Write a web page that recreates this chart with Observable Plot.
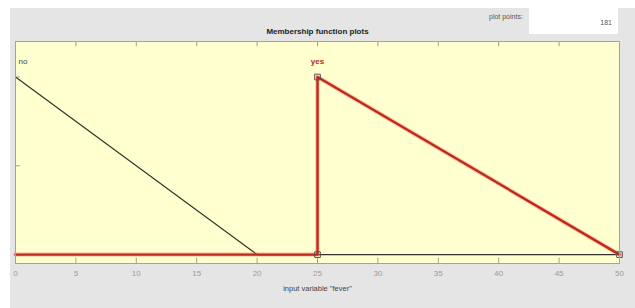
<!DOCTYPE html>
<html>
<head>
<meta charset="utf-8">
<script src="https://cdn.jsdelivr.net/npm/d3@7"></script>
<script src="https://cdn.jsdelivr.net/npm/@observablehq/plot@0.6"></script>
<style>
  html, body { margin: 0; padding: 0; background: #ffffff; }
  #wrap { position: relative; width: 635px; height: 308px; overflow: hidden; background: #ffffff;
          font-family: "Liberation Sans Narrow", "Liberation Sans", Arial, sans-serif; }
  #panel { position: absolute; left: 10px; top: 8px; right: 0; bottom: 0; background: #e5e5e5; }
  #ppbox { position: absolute; left: 529px; top: 0; width: 89px; height: 34px; background: #ffffff; }
  #pplabel { position: absolute; left: 489px; top: 13px; font-size: 7px; color: #555; }
  #ppval { position: absolute; right: 23px; top: 19px; font-size: 7px; color: #555; }
  #title { position: absolute; left: 0; width: 635px; top: 27px; text-align: center; font-size: 8px; font-weight: bold; color: #222; }
  #chart { position: absolute; left: 0; top: 0; }
</style>
</head>
<body>
<div id="wrap">
  <div id="panel"></div>
  <div id="ppbox"></div>
  <div id="pplabel">plot points:</div>
  <div id="ppval">181</div>
  <div id="title">Membership function plots</div>
  <div id="chart"></div>
</div>
<script>
// Data
const xTicks = [0, 5, 10, 15, 20, 25, 30, 35, 40, 45, 50];
const yTicks = [0, 0.5, 1];
const xDomain = [0, 50];
const yDomain = [-0.05, 1.2];
const mfNames = ["no", "yes"];
const noX = [0, 20, 50];
const noY = [1, 0, 0];
const yesX = [0, 25, 25, 50];
const yesY = [0, 0, 1, 0];
const yesHandleX = [25, 25, 50];
const yesHandleY = [0, 1, 0];
const mfPeakX = [0, 25];
const axisLabel = 'input variable "fever"';

const noData = noX.map((x, i) => ({x, y: noY[i]}));
const yesData = yesX.map((x, i) => ({x, y: yesY[i]}));
const handles = yesHandleX.map((x, i) => ({x, y: yesHandleY[i]}));

const tickLenY = 0.03;
const tickLenX = 0.4;
const labelY = 1.09;

const chart = Plot.plot({
  width: 635,
  height: 308,
  marginTop: 41,
  marginBottom: 45,
  marginLeft: 15,
  marginRight: 16,
  style: { background: "transparent", fontFamily: '"Liberation Sans Narrow", "Liberation Sans", Arial, sans-serif' },
  x: { domain: xDomain },
  y: { domain: yDomain, axis: null },
  marks: [
    Plot.frame({ fill: "#ffffcf", stroke: "none" }),
    // inward ticks bottom / top / left
    Plot.ruleX(xTicks, { x: d => d, y1: yDomain[0], y2: yDomain[0] + tickLenY, stroke: "#8a8a7a", strokeWidth: 0.8 }),
    Plot.ruleX(xTicks, { x: d => d, y1: yDomain[1], y2: yDomain[1] - tickLenY, stroke: "#8a8a7a", strokeWidth: 0.8 }),
    Plot.ruleY(yTicks, { y: d => d, x1: xDomain[0], x2: xDomain[0] + tickLenX, stroke: "#8a8a7a", strokeWidth: 0.8 }),
    // tick labels
    Plot.axisX({ ticks: xTicks, tickSize: 0, tickPadding: 7, fontSize: 8, fill: "#9a9a9a", label: null }),
    Plot.text([axisLabel], { frameAnchor: "bottom", dy: 27, text: d => d, fontSize: 7.5, fill: "#444" }),
    // membership functions
    Plot.line(noData, { x: "x", y: "y", stroke: "#33332a", strokeWidth: 1.2 }),
    Plot.line(yesData, { x: "x", y: "y", stroke: "#e07060", strokeWidth: 4.5, strokeOpacity: 0.35 }),
    Plot.line(yesData, { x: "x", y: "y", stroke: "#c0281c", strokeWidth: 2.4 }),
    Plot.dot(handles, { x: "x", y: "y", symbol: "square", r: 3.2, stroke: "#555", strokeWidth: 1, fill: "none" }),
    Plot.text([mfNames[0]], { x: mfPeakX[0], y: labelY, text: d => d, fontSize: 8, textAnchor: "start", dx: 3, fill: "#444" }),
    Plot.text([mfNames[1]], { x: mfPeakX[1], y: labelY, text: d => d, fontSize: 8, fill: "#c0281c", fontWeight: "bold" }),
    Plot.frame({ stroke: "#a4a494", strokeWidth: 1 })
  ]
});
document.getElementById("chart").appendChild(chart);
</script>
</body>
</html>
